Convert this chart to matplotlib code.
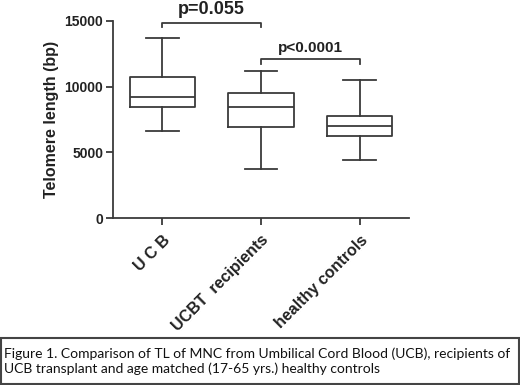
import matplotlib
matplotlib.use("Agg")
import matplotlib.pyplot as plt
from matplotlib.patches import Rectangle

categories = ["U C B", "UCBT  recipients", "healthy controls"]
whisker_low = [6600, 3720, 4420]
q1 = [8470, 6910, 6270]
median = [9190, 8430, 6990]
q3 = [10750, 9490, 7750]
whisker_high = [13700, 11180, 10500]
yticks = [0, 5000, 10000, 15000]
caption = ("Figure 1. Comparison of TL of MNC from Umbilical Cord Blood (UCB), recipients of\n"
           "UCB transplant and age matched (17-65 yrs.) healthy controls")

LC = "#3a3a3a"
plt.rcParams['font.family'] = ['Liberation Sans', 'DejaVu Sans']

fig = plt.figure(figsize=(5.2, 3.85), dpi=100)
ax = fig.add_axes([113/520, 1-218.3/385, 296/520, (218.3-20.7)/385])

stats = []
for i, c in enumerate(categories):
    stats.append(dict(label=c, whislo=whisker_low[i], q1=q1[i], med=median[i],
                      q3=q3[i], whishi=whisker_high[i], fliers=[]))
lp = dict(color=LC, linewidth=1.3)
ax.bxp(stats, positions=[1, 2, 3], widths=0.66, showfliers=False,
       boxprops=lp, whiskerprops=lp, capprops=lp, medianprops=lp,
       capwidths=0.33)

ax.set_xlim(0.5, 3.5)
ax.set_ylim(0, 15000)
ax.set_yticks(yticks)
ax.set_yticklabels([str(v) for v in yticks], fontsize=10, fontweight='bold', color='#222222')
ax.set_xticks([1, 2, 3])
ax.set_xticklabels(categories, rotation=45, ha='right', rotation_mode='anchor',
                   fontsize=11.5, fontweight='bold', color='#222222')
for s in ['top', 'right']:
    ax.spines[s].set_visible(False)
for s in ['left', 'bottom']:
    ax.spines[s].set_color(LC)
    ax.spines[s].set_linewidth(1.3)
ax.tick_params(axis='y', color=LC, width=1.3, length=5, pad=2)
ax.tick_params(axis='x', color=LC, width=1.3, length=5, pad=5)
ax.set_ylabel("Telomere length (bp)", fontsize=11.5, fontweight='bold', color='#222222', labelpad=4)

def bracket(x1, x2, y, drop, text, fs):
    ax.plot([x1, x1, x2, x2], [y - drop, y, y, y - drop], color=LC, lw=1.3, clip_on=False)
    ax.text((x1 + x2) / 2, y + 350, text, ha='center', va='bottom', fontsize=fs,
            fontweight='bold', color='#222222', clip_on=False)

bracket(1, 2, 14850, 300, "p=0.055", 13)
bracket(2, 3, 12080, 360, "p<0.0001", 11)

fig.patches.append(Rectangle((1/520, 1-384/385), 518/520, (384-338)/385,
                             transform=fig.transFigure, fill=False,
                             edgecolor='#444444', linewidth=1.5))
fig.text(4/520, 1-361.5/385, caption, fontsize=10, family='Lato', va='center',
         ha='left', color='#111111', linespacing=1.2)

fig.savefig("out.png", dpi=100, facecolor='white')
